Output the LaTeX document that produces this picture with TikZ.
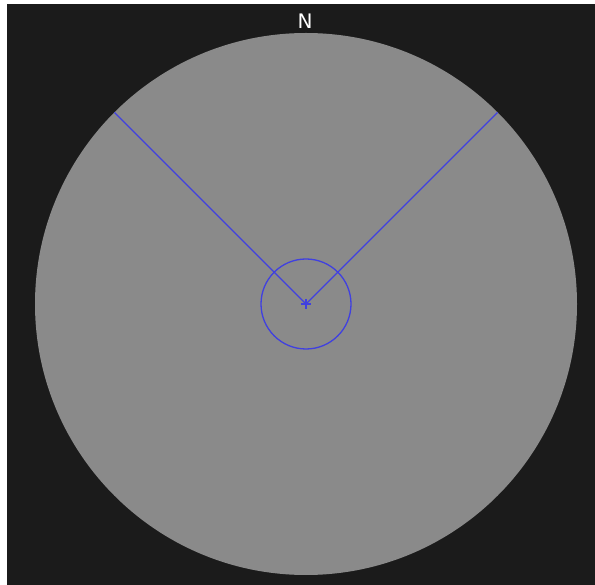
\documentclass[tikz,border=0pt]{standalone}
\usepackage{fontspec}
\setmainfont{DejaVu Sans}
\usetikzlibrary{calc}
\definecolor{bgdark}{HTML}{1B1B1B}
\definecolor{disk}{HTML}{8A8A8A}
\definecolor{lineblue}{HTML}{4040E0}
\begin{document}
\begin{tikzpicture}[x=1pt,y=-1pt,
  bl/.style={draw=lineblue,line width=1.3pt}]
\useasboundingbox (0,0) rectangle (595,585);
\fill[white] (0,0) rectangle (595,585);
\fill[bgdark] (7,4) rectangle (595,585);
\coordinate (c) at (306,304);
\fill[disk] (c) circle[radius=271];
\coordinate (nw) at ($(c)+(-191.6,-191.6)$);
\coordinate (ne) at ($(c)+(191.6,-191.6)$);
\draw[bl] (c) -- (nw);
\draw[bl] (c) -- (ne);
\draw[bl] (c) circle[radius=45];
\draw[bl] ($(c)+(-5,0)$) -- ($(c)+(5,0)$);
\draw[bl] ($(c)+(0,-5)$) -- ($(c)+(0,5)$);
\node[text=white,font=\fontsize{20}{20}\selectfont,inner sep=0pt] (n) at (305,21) {N};
\end{tikzpicture}
\end{document}
